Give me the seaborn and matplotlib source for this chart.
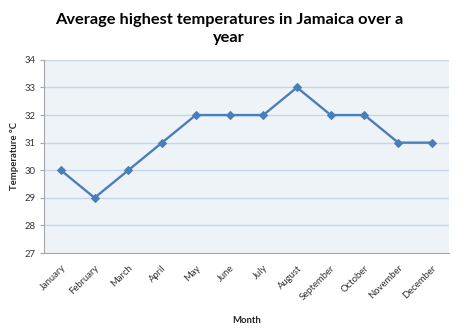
import matplotlib
matplotlib.use("Agg")
import matplotlib.pyplot as plt
import seaborn as sns
import pandas as pd

months = ["January", "February", "March", "April", "May", "June", "July",
          "August", "September", "October", "November", "December"]
temps = [30, 29, 30, 31, 32, 32, 32, 33, 32, 32, 31, 31]
yticks = [27, 28, 29, 30, 31, 32, 33, 34]

sns.set_style("white")
plt.rcParams['font.family'] = ['Lato', 'DejaVu Sans']

df = pd.DataFrame({"Month": months, "Temp": temps})

fig = plt.figure(figsize=(4.58, 3.29), dpi=100)
ax = fig.add_axes([0.096, 0.231, 0.884, 0.587])
ax.set_facecolor("#EEF3F8")

sns.lineplot(data=df, x="Month", y="Temp", ax=ax, sort=False, color="#4A7EBB",
             linewidth=1.7, marker="D", markersize=4.5, markeredgecolor="#4A7EBB")

ax.set_xlim(-0.5, 11.5)
ax.set_ylim(27, 34)
ax.set_yticks(yticks)
ax.set_yticklabels([str(v) for v in yticks], fontsize=6.8, color="#333333")
ax.set_xticks(range(len(months)))
ax.set_xticklabels(months, rotation=45, ha="right", rotation_mode="anchor",
                   fontsize=6.8, color="#333333")
for y in yticks[1:]:
    ax.axhline(y, color="#C5D5EA", linewidth=1.0, zorder=0)

for s in ["top", "right"]:
    ax.spines[s].set_visible(False)
for s in ["left", "bottom"]:
    ax.spines[s].set_color("#A6A6A6")
    ax.spines[s].set_linewidth(0.8)
ax.tick_params(axis="y", left=True, length=3, width=0.8, color="#A6A6A6", pad=3)
ax.tick_params(axis="x", bottom=False, pad=4)

ax.set_xlabel("Month", fontsize=6.8, fontweight="bold", labelpad=10)
ax.set_ylabel("Temperature °C", fontsize=6.8, fontweight="bold", labelpad=4)

fig.text(0.5, 0.912, "Average highest temperatures in Jamaica over a\nyear",
         ha="center", va="center", fontsize=11.8, fontweight="bold",
         linespacing=1.3, color="#000000")

fig.savefig("out.png", dpi=100)
